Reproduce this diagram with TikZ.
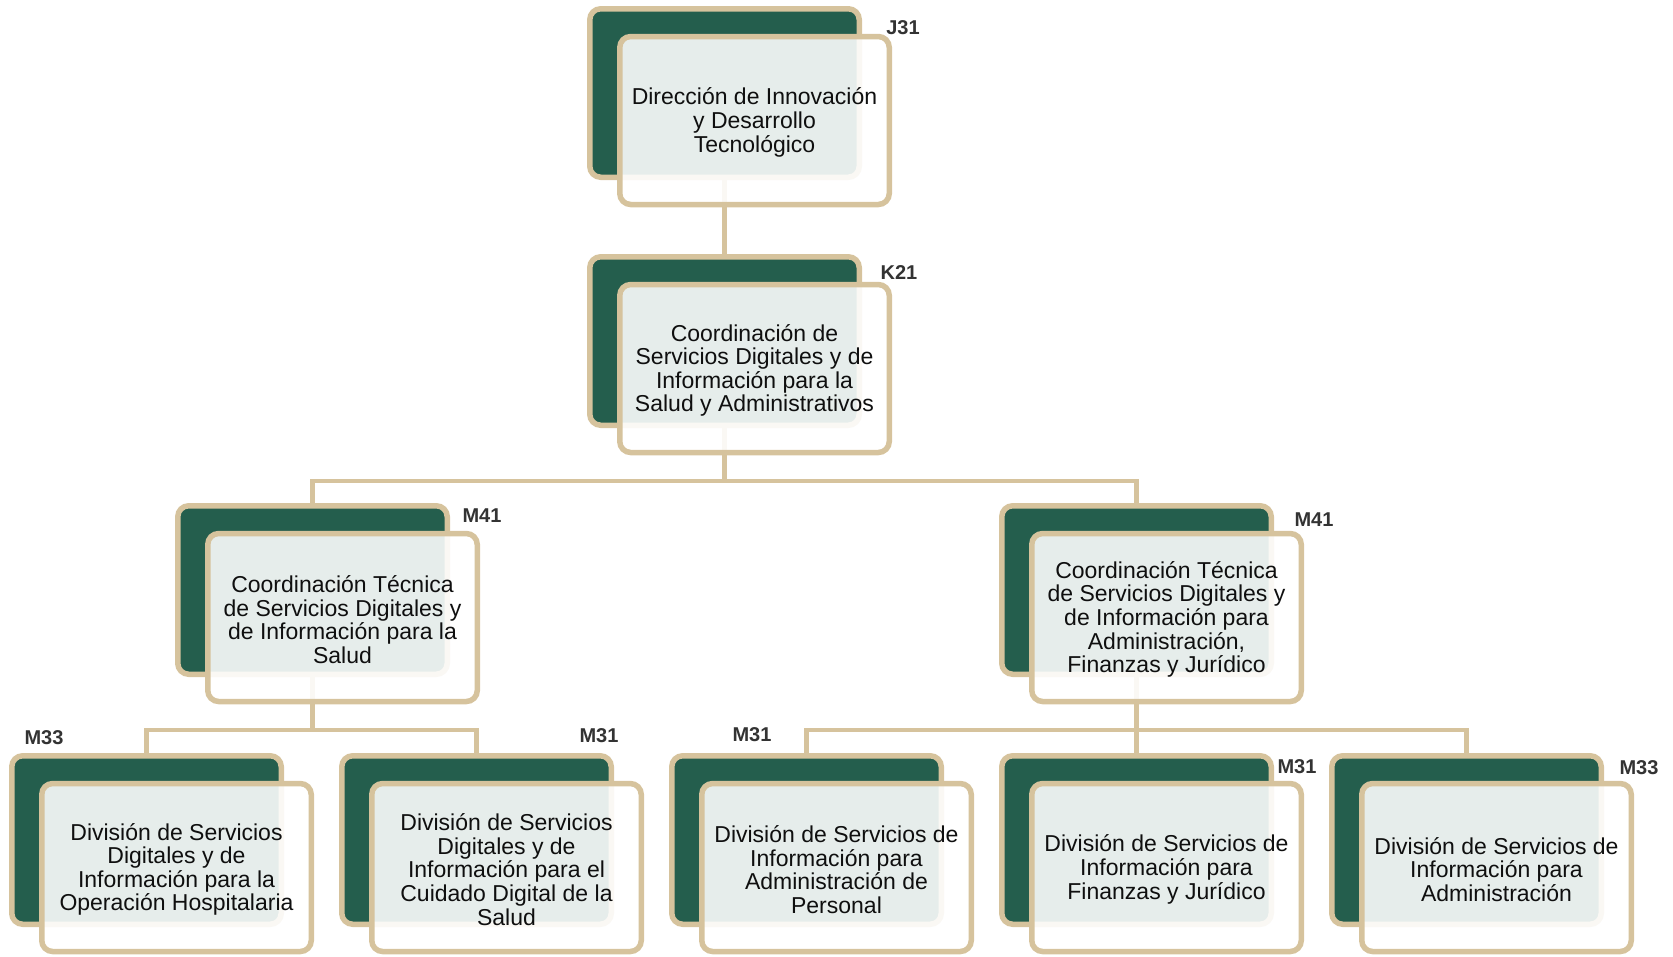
\documentclass[tikz,border=0pt]{standalone}
\usepackage{fontspec}
\setmainfont{Liberation Sans}
\usetikzlibrary{positioning}
\definecolor{boxgreen}{RGB}{36,94,77}
\definecolor{boxtan}{RGB}{214,195,157}
\definecolor{txtblack}{RGB}{15,15,15}
\definecolor{lblgray}{RGB}{51,51,51}
\pgfdeclarelayer{background}
\pgfsetlayers{background,main}
\tikzset{
  backbox/.style={draw=boxtan, fill=boxgreen, line width=5.5pt, rounded corners=11pt,
    minimum width=269.5pt, minimum height=168.5pt, inner sep=0pt},
  frontbox/.style={draw=boxtan, fill=white, fill opacity=0.89, draw opacity=1, text opacity=1,
    line width=5.5pt, rounded corners=11pt,
    minimum width=269.5pt, minimum height=168pt, inner sep=0pt},
  unittext/.style={align=center, text=txtblack, inner sep=0pt,
    font=\fontsize{23}{23.6}\selectfont},
  codelbl/.style={text=lblgray, font=\bfseries\fontsize{20}{21}\selectfont, inner sep=0pt},
  conn/.style={draw=boxtan, line width=4.5pt}
}
\newcommand\orgunit[4]{%
  \node[backbox] (#1) at ({#2+137.5},{#3+87}) {};
  \node[frontbox] (#1f) at ({#2+167.5},{#3+114.5}) {};
  \node[unittext] (#1t) at ({#2+167.5},{#3+116.5}) {#4};
}
\begin{document}
\begin{tikzpicture}[x=1pt,y=-1pt]
\useasboundingbox (0,0) rectangle (1673,956);
\orgunit{j31}{587}{6}{Dirección de Innovación\\y Desarrollo\\Tecnológico}
\orgunit{k21}{587}{254}{Coordinación de\\Servicios Digitales y de\\Información para la\\Salud y Administrativos}
\orgunit{m41a}{175}{503}{Coordinación Técnica\\de Servicios Digitales y\\de Información para la\\Salud}
\orgunit{m41b}{999}{503}{Coordinación Técnica\\de Servicios Digitales y\\de Información para\\Administración,\\Finanzas y Jurídico}
\orgunit{d1}{9}{753}{División de Servicios\\Digitales y de\\Información para la\\Operación Hospitalaria}
\orgunit{d2}{339}{753}{División de Servicios\\Digitales y de\\Información para el\\Cuidado Digital de la\\Salud}
\orgunit{d3}{669}{753}{División de Servicios de\\Información para\\Administración de\\Personal}
\orgunit{d4}{999}{753}{División de Servicios de\\Información para\\Finanzas y Jurídico}
\orgunit{d5}{1329}{753}{División de Servicios de\\Información para\\Administración}

\node[codelbl] (lj31) at (903,28) {J31};
\node[codelbl] (lk21) at (899,273) {K21};
\node[codelbl] (lm41a) at (482,516) {M41};
\node[codelbl] (lm41b) at (1314,520) {M41};
\node[codelbl] (ld1) at (44,738) {M33};
\node[codelbl] (ld2) at (599,736) {M31};
\node[codelbl] (ld3) at (752,735) {M31};
\node[codelbl] (ld4) at (1297,767) {M31};
\node[codelbl] (ld5) at (1639,768) {M33};

\coordinate (bar1) at (0,481);
\coordinate (bar2) at (0,730);
\begin{pgfonlayer}{background}
  \draw[conn] (j31.south) -- (k21.north);
  \draw[conn] (k21.south) -- (k21.south |- bar1);
  \draw[conn] (m41a.north) |- (m41b.north |- bar1) -- (m41b.north);
  \draw[conn] (m41a.south) -- (m41a.south |- bar2);
  \draw[conn] (d1.north) |- (d2.north |- bar2) -- (d2.north);
  \draw[conn] (m41b.south) -- (d4.north);
  \draw[conn] (d3.north) |- (d5.north |- bar2) -- (d5.north);
\end{pgfonlayer}
\end{tikzpicture}
\end{document}
